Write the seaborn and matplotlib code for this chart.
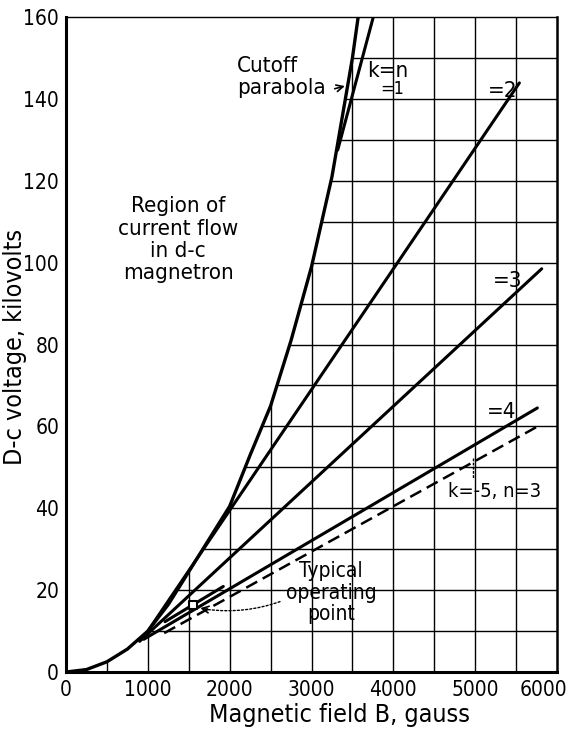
import matplotlib

matplotlib.use("Agg")
import matplotlib.pyplot as plt
from matplotlib.patches import Polygon
from matplotlib.transforms import ScaledTranslation
import numpy as np
import pandas as pd
import seaborn as sns


# cutoff parabola (gauss, kV)
cutoff_b = [0, 250, 500, 750, 1000, 1250, 1500, 1750, 2000, 2250, 2500, 2750, 3000, 3250, 3500, 3570]
cutoff_v = [0, 0.6, 2.5, 5.6, 10.0, 16.5, 24.5, 32.5, 40.5, 53.0, 65.0, 81.0, 99.0, 121.0, 150.0, 160.0]

# Hartree lines k=n, start and end points
hartree_names = ["n=1", "n=2", "n=3", "n=4"]
hartree_b = [[3320, 3755], [1000, 5540], [900, 5813], [950, 5760]]
hartree_v = [[127.5, 160.0], [10.0, 143.9], [7.5, 98.5], [8.0, 64.5]]

# dashed line k=-5, n=3
dashed_b = [1200, 5800]
dashed_v = [9.5, 60.4]

# short tangent stroke through the operating point
stroke_b = [1210, 1922]
stroke_v = [12.3, 20.9]

# typical operating point
point_b = [1556]
point_v = [16.4]

x_ticks = [0, 1000, 2000, 3000, 4000, 5000, 6000]
y_ticks = [0, 20, 40, 60, 80, 100, 120, 140, 160]


def main() -> None:
    sns.set_theme(style="white")
    plt.rcParams["font.family"] = ["DejaVu Sans"]
    plt.rcParams["font.stretch"] = "condensed"
    for key in ["text.color", "axes.labelcolor", "xtick.color", "ytick.color"]:
        plt.rcParams[key] = "black"

    fig = plt.figure(figsize=(5.73, 7.33), dpi=100)
    ax = fig.add_axes([0.1152, 0.0832, 0.8569, 0.8936])

    # grid only in the region right of the cutoff parabola
    clip = Polygon(
        np.column_stack([cutoff_b + [6000, 6000], cutoff_v + [160, 0]]),
        closed=True,
        transform=ax.transData,
        facecolor="none",
        edgecolor="none",
    )
    ax.add_patch(clip)
    vl = ax.vlines(np.arange(500, 6000, 500), 0, 160, color="black", lw=1.0)
    hl = ax.hlines(np.arange(10, 160, 10), 0, 6000, color="black", lw=1.0)
    vl.set_clip_path(clip)
    hl.set_clip_path(clip)

    cutoff = pd.DataFrame({"B": cutoff_b, "V": cutoff_v})
    sns.lineplot(data=cutoff, x="B", y="V", color="black", lw=2.4, sort=False, ax=ax)

    rows = []
    for name, bs, vs in zip(hartree_names, hartree_b, hartree_v):
        for b, v in zip(bs, vs):
            rows.append({"curve": name, "B": b, "V": v})
    rows += [{"curve": "stroke", "B": b, "V": v} for b, v in zip(stroke_b, stroke_v)]
    lines = pd.DataFrame(rows)
    sns.lineplot(data=lines, x="B", y="V", units="curve", estimator=None,
                 color="black", lw=2.2, sort=False, ax=ax)

    dashed = pd.DataFrame({"B": dashed_b, "V": dashed_v})
    sns.lineplot(data=dashed, x="B", y="V", color="black", lw=1.8,
                 ls=(0, (5, 2.5)), sort=False, ax=ax)

    sns.scatterplot(x=point_b, y=point_v, marker="s", s=28, facecolor="white",
                    edgecolor="black", linewidth=1.5, zorder=5, ax=ax)

    # labels on the chart
    fs = 16
    ax.text(2090, 145.4, "Cutoff\nparabola", ha="left", va="center", fontsize=fs, linespacing=1.15)
    ax.annotate("", xy=(3440, 143.3), xytext=(3250, 142.3),
                arrowprops=dict(arrowstyle="->", color="black", lw=1.2))
    ax.text(3678, 146.8, "k=n", ha="left", va="center", fontsize=fs)
    ax.text(3837, 142.3, "=1", ha="left", va="center", fontsize=fs - 3)
    ax.text(5157, 141.9, "=2", ha="left", va="center", fontsize=fs)
    ax.text(5218, 95.4, "=3", ha="left", va="center", fontsize=fs)
    ax.text(5145, 63.6, "=4", ha="left", va="center", fontsize=fs)
    ax.text(4668, 44.1, "k=-5, n=3", ha="left", va="center", fontsize=fs - 1.5)
    ax.plot([4974, 4974], [52.3, 47.5], color="black", lw=1.0, ls=(0, (2, 1)))
    ax.text(1369, 105.6, "Region of\ncurrent flow\nin d-c\nmagnetron", ha="center",
            va="center", fontsize=fs, linespacing=1.15)
    ax.text(3238, 19.4, "Typical\noperating\npoint", ha="center", va="center",
            fontsize=fs - 1, linespacing=1.1)
    # dotted leader from the text to the operating point
    ax.annotate("", xy=(1720, 15.3), xytext=(2615, 17.2),
                arrowprops=dict(arrowstyle="-", color="black", lw=1.0, ls=(0, (1.5, 1.5)),
                                connectionstyle="arc3,rad=-0.12", shrinkA=0, shrinkB=0))
    ax.annotate("", xy=(1640, 15.6), xytext=(1730, 15.3),
                arrowprops=dict(arrowstyle="->", color="black", lw=1.2,
                                shrinkA=0, shrinkB=0))

    ax.set_xlim(0, 6000)
    ax.set_ylim(0, 160)
    ax.set_xticks(x_ticks)
    ax.set_yticks(y_ticks)
    ax.set_yticks(np.arange(10, 160, 20), minor=True)
    ax.tick_params(axis="x", which="both", length=0, labelsize=15, pad=6)
    ax.tick_params(axis="y", which="both", direction="in", length=7, width=1.5,
                   labelsize=15, pad=5)
    # last x label sits a little left so it stays inside the picture
    last = ax.get_xticklabels()[-1]
    last.set_transform(last.get_transform() + ScaledTranslation(-10 / 72, 0, fig.dpi_scale_trans))

    ax.set_xlabel("Magnetic field B, gauss", fontsize=18)
    ax.set_ylabel("D-c voltage, kilovolts", fontsize=18)
    ax.xaxis.set_label_coords(0.556, -0.048)
    ax.yaxis.set_label_coords(-0.08, 0.497)

    for side, w in {"left": 2.2, "bottom": 2.2, "right": 1.8, "top": 1.0}.items():
        ax.spines[side].set_visible(True)
        ax.spines[side].set_color("black")
        ax.spines[side].set_linewidth(w)

    fig.savefig("out.png", dpi=100, facecolor="white")
    plt.close(fig)


if __name__ == "__main__":
    main()
